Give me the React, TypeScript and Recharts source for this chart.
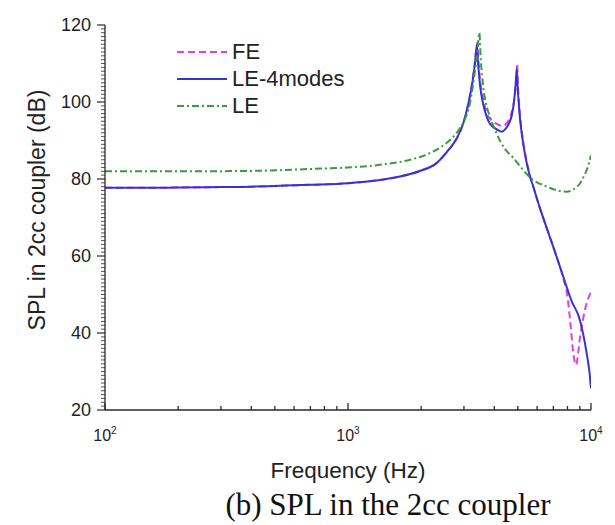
import React from 'react';
import { LineChart, Line, XAxis, YAxis, Legend, Label } from 'recharts';

// ---- data ----
const feFreq = [100, 150, 200, 300, 400, 500, 700, 1000, 1300, 1600, 2000, 2300, 2550, 2800, 3000, 3150, 3250, 3330, 3410, 3450, 3520, 3620, 3720, 3900, 4100, 4350, 4500, 4700, 4850, 4930, 4965, 5010, 5100, 5250, 5440, 5600, 5790, 6100, 6400, 7000, 7690, 8000, 8200, 8460, 8670, 9020, 9440, 10000];
const feSpl = [77.7, 77.7, 77.8, 77.9, 78.0, 78.2, 78.5, 78.9, 79.6, 80.5, 82.2, 84.0, 87.0, 90.5, 95.0, 100.5, 105.5, 110.5, 115.5, 110, 104, 100, 97.2, 95.2, 94.3, 93.7, 94.5, 97, 101.5, 106, 110, 104, 97, 90, 84.5, 81, 78, 73.3, 69.4, 62.3, 54.2, 49.5, 43.4, 34.7, 31.7, 39, 46, 50.7];

const le4Freq = [100, 150, 200, 300, 400, 500, 700, 1000, 1300, 1600, 2000, 2300, 2550, 2800, 3000, 3150, 3250, 3330, 3390, 3430, 3500, 3600, 3720, 3850, 4020, 4200, 4300, 4450, 4600, 4720, 4820, 4900, 4950, 4990, 5050, 5110, 5250, 5440, 5600, 5790, 6100, 6400, 7000, 7690, 8300, 9020, 9300, 9600, 9850, 10000];
const le4Spl = [77.7, 77.7, 77.8, 77.9, 78.0, 78.2, 78.5, 78.9, 79.6, 80.5, 82.2, 84.0, 87.0, 90.5, 95.0, 100.5, 105, 110, 114.8, 110, 104, 99.5, 96.2, 94.2, 93.2, 92.5, 92.3, 93, 94.5, 96.5, 100, 105, 108.5, 104, 99, 95.3, 89.5, 84.1, 80.8, 78, 73.3, 69.4, 62.3, 54.6, 48.5, 43.2, 39.5, 34.7, 30, 25.6];

const leFreq = [100, 200, 400, 700, 1000, 1400, 1800, 2170, 2500, 2800, 3000, 3177, 3333, 3420, 3470, 3520, 3600, 3700, 3840, 4090, 4400, 4790, 5200, 5610, 6580, 7300, 7940, 8500, 9020, 9400, 9600, 9850, 10000];
const leSpl = [82.0, 82.0, 82.1, 82.6, 83.0, 83.8, 85.0, 86.7, 89, 92, 95, 99.7, 108.3, 114, 118, 111, 104, 99.5, 96.2, 91.8, 88, 85.5, 82.7, 80.4, 78, 77, 76.7, 77.4, 78.9, 81, 82.3, 84.5, 86.2];

const seriesNames = ['FE', 'LE-4modes', 'LE'];
const seriesColors = ['#e23fe3', '#3434d2', '#3b9a3b'];
const seriesDash = ['7 4', '', '7 3 2 3'];

const xMajorTicks = [100, 1000, 10000];
const xMinorTicks = [200, 300, 400, 500, 600, 700, 800, 900, 2000, 3000, 4000, 5000, 6000, 7000, 8000, 9000];
const yMajorTicks = [20, 40, 60, 80, 100, 120];
const yMinorTicks = Array.from({ length: 101 }, (_, i) => 20 + i).filter((v) => v % 20 !== 0);

const toRows = (fs: number[], vs: number[]) => fs.map((f, i) => ({ f, v: vs[i] }));
const seriesData = [toRows(feFreq, feSpl), toRows(le4Freq, le4Spl), toRows(leFreq, leSpl)];

const AXIS = '#2a2a2a';
const SANS = '"Liberation Sans", Arial, sans-serif';

const renderXLabel = (props: any) => {
  const x = Number(props.x);
  const y = Number(props.y);
  const v = props.payload.value;
  const exp = Math.round(Math.log10(v));
  return (
    <text x={x} y={y + 38} textAnchor="middle" fontSize={16} fontFamily={SANS} fill="#222" stroke="none">
      10<tspan dy={-7} fontSize={10}>{exp}</tspan>
    </text>
  );
};

const renderYLabel = (props: any) => {
  const x = Number(props.x);
  const y = Number(props.y);
  const v = props.payload.value;
  return (
    <text x={x} y={y} textAnchor="end" dominantBaseline="central" fontSize={18} fontFamily={SANS} fill="#222" stroke="none">
      {v}
    </text>
  );
};

const emptyTick = () => <g />;

const LegendContent = () => (
  <div style={{ fontFamily: SANS, fontSize: 22, color: '#222' }}>
    {seriesNames.map((n, i) => (
      <div key={n} style={{ display: 'flex', alignItems: 'center', height: 27 }}>
        <svg width={52} height={10}>
          <line x1={1} x2={51} y1={5} y2={5} stroke={seriesColors[i]} strokeWidth={2.2}
            strokeDasharray={seriesDash[i] || undefined} />
        </svg>
        <span style={{ marginLeft: 4 }}>{n}</span>
      </div>
    ))}
  </div>
);

const logAxis = { type: 'number' as const, scale: 'log' as const, domain: [100, 10000], allowDataOverflow: true, interval: 0 as const };
const splAxis = { type: 'number' as const, domain: [20, 120], allowDataOverflow: true, interval: 0 as const };

export default function App() {
  return (
    <div style={{ position: 'absolute', left: 0, top: 0, width: 615, height: 525, background: '#fff' }}>
      <LineChart width={615} height={525} margin={{ top: 25, right: 24, bottom: 40, left: 0 }}>
        <XAxis
          xAxisId="f"
          dataKey="f"
          {...logAxis}
          ticks={xMajorTicks}
          height={75}
          tickSize={-7}
          tickMargin={0}
          tick={renderXLabel}
          tickLine={{ stroke: AXIS, strokeWidth: 1.3 }}
          axisLine={{ stroke: AXIS, strokeWidth: 1.3 }}
        >
          <Label
            content={() => (
              <text x={348} y={478} textAnchor="middle" fontSize={22.5} fontFamily={SANS} fill="#222">
                Frequency (Hz)
              </text>
            )}
          />
        </XAxis>
        <XAxis
          xAxisId="fMinor"
          dataKey="f"
          {...logAxis}
          ticks={xMinorTicks}
          mirror
          height={10}
          tickSize={4}
          tick={emptyTick}
          axisLine={false}
          tickLine={{ stroke: AXIS, strokeWidth: 1.3 }}
        />
        <YAxis
          yAxisId="s"
          {...splAxis}
          ticks={yMajorTicks}
          width={105}
          tickSize={8}
          tickMargin={6}
          tick={renderYLabel}
          tickLine={{ stroke: AXIS, strokeWidth: 1.2 }}
          axisLine={{ stroke: AXIS, strokeWidth: 1.3 }}
        >
          <Label
            content={() => (
              <text x={37} y={210} transform="rotate(-90 37 210)" textAnchor="middle" dominantBaseline="central" fontSize={23} fontFamily={SANS} fill="#222">
                SPL in 2cc coupler (dB)
              </text>
            )}
          />
        </YAxis>
        <YAxis
          yAxisId="sMinor"
          {...splAxis}
          ticks={yMinorTicks}
          mirror
          width={10}
          tickSize={-4}
          tick={emptyTick}
          axisLine={false}
          tickLine={{ stroke: AXIS, strokeWidth: 0.8 }}
        />
        <Legend
          layout="vertical"
          align="center"
          verticalAlign="middle"
          content={<LegendContent />}
          wrapperStyle={{ left: 176, top: 38, width: 'auto', height: 'auto' }}
        />
        {seriesNames.map((n, i) => (
          <Line
            key={n}
            name={n}
            xAxisId="f"
            yAxisId="s"
            data={seriesData[i]}
            dataKey="v"
            type="monotone"
            stroke={seriesColors[i]}
            strokeWidth={2}
            strokeDasharray={seriesDash[i] || undefined}
            dot={false}
            activeDot={false}
            isAnimationActive={false}
          />
        ))}
      </LineChart>
      <div style={{ position: 'absolute', left: 388, top: 489, transform: 'translateX(-50%)', whiteSpace: 'nowrap', lineHeight: 1, fontFamily: '"Liberation Serif", "Times New Roman", serif', fontSize: 31, color: '#111' }}>
        (b) SPL in the 2cc coupler
      </div>
    </div>
  );
}
